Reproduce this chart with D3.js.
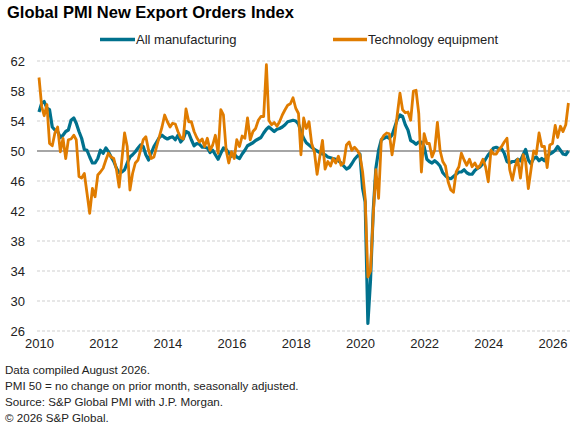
<!DOCTYPE html>
<html><head><meta charset="utf-8">
<script src="https://cdn.jsdelivr.net/npm/d3@7"></script>
<style>
html,body{margin:0;padding:0;background:#fff;}
svg{display:block;font-family:"Liberation Sans",Arial,sans-serif;}
</style></head>
<body><svg id="c" width="585" height="427"></svg>
<script>
const startMonth = "2010-01";
const yTicks = [26,30,34,38,42,46,50,54,58,62];
const xTickYears = [2010,2012,2014,2016,2018,2020,2022,2024,2026];
const seriesNames = ["All manufacturing","Technology equipment"];
const allManufacturing = [
55.2,56.4,56.6,55.7,55.5,53.2,52.8,52.6,51.8,52.1,52.6,52.8,
54.1,54.4,53.7,52.6,51.7,50.2,50.1,49.2,48.4,48.4,49.0,50.1,
49.7,50.4,49.9,49.2,48.6,47.7,47.1,47.2,47.5,48.4,49.2,49.5,
49.9,50.4,50.8,50.6,49.5,48.8,49.7,50.6,51.2,51.8,52.1,51.8,
51.6,51.8,51.9,51.5,52.1,51.2,51.6,52.6,52.4,51.5,50.7,51.0,
50.9,50.5,50.5,50.4,49.8,50.1,49.5,48.9,49.7,50.4,50.2,49.7,
49.3,49.6,49.2,49.0,49.6,50.1,50.7,50.9,51.1,51.4,51.6,51.8,
52.4,52.9,53.2,52.9,52.6,52.9,53.0,53.2,53.5,53.9,54.0,54.1,
54.0,53.6,52.6,51.7,51.1,50.8,50.5,50.2,50.0,49.8,49.6,49.5,
49.2,49.1,49.0,48.9,48.7,48.4,48.0,47.6,47.8,48.3,48.9,49.3,
49.6,45.0,43.2,27.0,32.8,42.1,47.7,50.1,51.5,51.7,51.9,51.7,
52.1,53.2,54.2,54.8,54.6,53.5,52.8,51.4,51.2,50.9,51.2,51.2,
50.6,48.9,48.6,48.4,48.7,48.4,48.0,47.1,46.7,46.4,46.3,46.6,
46.9,47.2,47.2,47.5,47.1,46.9,46.9,47.4,47.7,47.9,48.3,48.9,
49.5,49.9,50.4,50.5,50.3,50.3,49.7,48.6,48.4,48.6,48.6,48.9,
48.7,49.5,50.2,48.8,48.3,49.0,49.2,48.7,49.0,48.7,49.3,49.6,
49.8,50.1,50.6,50.1,49.6,49.5,50.0
];
const technologyEquipment = [
59.8,55.9,54.7,56.2,51.0,50.7,52.4,53.2,49.9,51.7,49.0,51.5,
51.6,52.1,51.5,46.6,46.4,47.0,44.4,41.7,45.0,43.9,46.8,47.2,
47.7,48.8,49.7,49.2,49.0,47.5,45.2,48.8,52.4,50.6,44.8,47.0,
48.4,48.8,50.1,51.5,51.9,50.1,49.0,49.2,50.6,51.9,53.2,54.8,
53.9,53.2,53.7,53.6,52.6,51.8,51.6,55.6,53.9,53.9,52.6,51.8,
51.2,51.6,50.6,51.7,50.1,50.8,52.1,49.7,55.5,54.8,50.1,48.4,
49.9,49.0,51.5,50.6,52.0,51.7,54.4,51.5,52.6,53.0,54.1,54.6,
54.6,61.5,54.1,53.5,53.8,53.3,53.9,54.8,55.5,56.1,56.3,57.1,
55.7,55.0,49.5,54.4,53.0,53.9,51.0,49.9,46.9,49.2,51.4,47.6,
48.6,48.0,49.0,48.4,49.3,48.1,48.4,50.8,51.2,50.1,50.5,50.1,
49.5,47.2,43.7,33.2,34.0,41.5,47.5,43.7,51.5,52.1,52.4,52.3,
49.5,51.9,54.8,57.7,55.5,55.1,55.2,54.1,58.0,58.1,55.0,47.2,
52.3,51.0,51.0,49.2,50.1,53.8,50.1,48.6,48.0,45.9,44.8,44.5,
47.2,47.9,49.7,48.8,48.1,48.9,47.9,48.4,47.7,48.1,48.9,47.9,
45.9,50.1,49.6,49.6,50.2,50.6,51.2,51.7,47.5,46.1,47.9,48.9,
46.4,49.5,48.6,45.0,47.5,50.0,49.6,52.4,50.6,50.6,47.8,50.8,
51.0,53.4,51.8,53.3,52.6,53.5,56.4
];
const footnotes = [
"Data compiled August 2026.",
"PMI 50 = no change on prior month, seasonally adjusted.",
"Source: S&P Global PMI with J.P. Morgan.",
"\u00A9 2026 S&P Global."
];

const colors = ["#00718d","#e07c00"];
const svg = d3.select("#c");
const parse = d3.timeParse("%Y-%m");
const t0 = parse(startMonth);
const dates = allManufacturing.map((_, i) => d3.timeMonth.offset(t0, i));

const x = d3.scaleTime().domain([new Date(2010,0,1), new Date(2026,0,1)]).range([39, 552.5]);
const y = d3.scaleLinear().domain([26,62]).range([331,61]);
const gridL = 37, gridR = 570;

// title
svg.append("text").attr("x",7).attr("y",18).attr("font-size","16.5px").attr("font-weight","bold")
  .attr("fill","#000").text("Global PMI New Export Orders Index");

// legend
const leg = [{x1:100,x2:135,tx:136},{x1:333,x2:367,tx:368}];
seriesNames.forEach((n,i)=>{
  svg.append("line").attr("x1",leg[i].x1).attr("x2",leg[i].x2).attr("y1",39.5).attr("y2",39.5)
    .attr("stroke",colors[i]).attr("stroke-width",3.5);
  svg.append("text").attr("x",leg[i].tx).attr("y",44).attr("font-size","13px").attr("fill","#222").text(n);
});

// grid
const grid = svg.append("g");
grid.selectAll("line").data(yTicks.filter(d=>d!==50)).join("line")
  .attr("x1",gridL).attr("x2",gridR).attr("y1",d=>y(d)).attr("y2",d=>y(d))
  .attr("stroke","#cfcfcf").attr("stroke-width",1).attr("stroke-dasharray","3,2");
svg.append("line").attr("x1",gridL).attr("x2",gridR).attr("y1",y(50)).attr("y2",y(50))
  .attr("stroke","#a6a6a6").attr("stroke-width",2);

// y axis labels
const yAxis = d3.axisLeft(y).tickValues(yTicks).tickSize(0).tickPadding(0);
const gy = svg.append("g").attr("transform","translate(25,0)").call(yAxis);
gy.select(".domain").remove();
gy.selectAll("text").attr("font-size","13px").attr("fill","#222").attr("font-family","'Liberation Sans',Arial,sans-serif");

// x axis labels
const xAxis = d3.axisBottom(x).tickValues(xTickYears.map(yv=>new Date(yv,0,1))).tickFormat(d3.timeFormat("%Y")).tickSize(0).tickPadding(0);
const gx = svg.append("g").attr("transform","translate(0,339)").call(xAxis);
gx.select(".domain").remove();
gx.selectAll("text").attr("font-size","13px").attr("fill","#222").attr("font-family","'Liberation Sans',Arial,sans-serif");

// lines
const line = d3.line().x((d,i)=>x(dates[i])).y(d=>y(d)).curve(d3.curveLinear);
svg.append("path").datum(allManufacturing).attr("d",line).attr("fill","none")
  .attr("stroke",colors[0]).attr("stroke-width",3.2).attr("stroke-linejoin","round");
svg.append("path").datum(technologyEquipment).attr("d",line).attr("fill","none")
  .attr("stroke",colors[1]).attr("stroke-width",2.8).attr("stroke-linejoin","round");

// footnotes
svg.append("g").selectAll("text").data(footnotes).join("text")
  .attr("x",5).attr("y",(d,i)=>374+i*16).attr("font-size","11.6px").attr("fill","#222").text(d=>d);
</script></body></html>
